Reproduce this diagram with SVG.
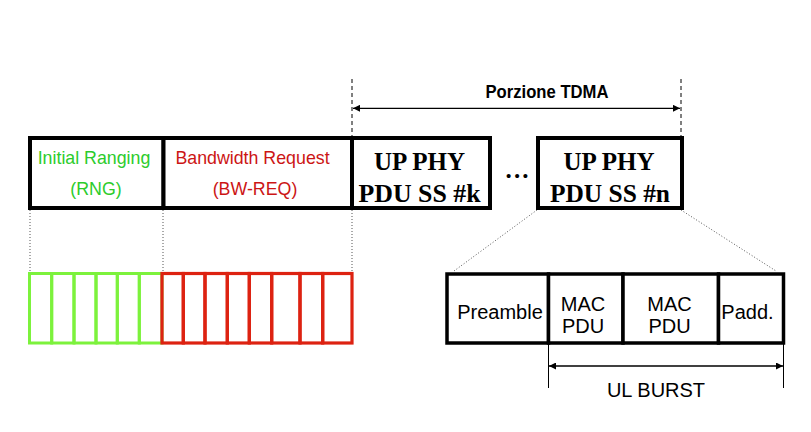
<svg xmlns="http://www.w3.org/2000/svg" width="811" height="432" viewBox="0 0 811 432">
<defs>
<marker id="ah" viewBox="0 0 10 10" refX="10" refY="5" markerWidth="9" markerHeight="7" markerUnits="userSpaceOnUse" orient="auto-start-reverse"><path d="M0,0 L10,5 L0,10 z" fill="#000"/></marker>
<style>
.box{fill:#fff;stroke:#000;stroke-width:4}
.cell{fill:#fff;stroke:#000;stroke-width:3.5}
.g{fill:none;stroke:#7cf23c;stroke-width:3}
.r{fill:none;stroke:#dd2211;stroke-width:3.2}
.dot{stroke:#555;stroke-width:1;stroke-dasharray:1 2;fill:none}
.dash{stroke:#000;stroke-width:1;stroke-dasharray:4 3;fill:none}
.arr{stroke:#000;stroke-width:1.3;fill:none}
.sans{font-family:"Liberation Sans",Arial,sans-serif}
.serif{font-family:"Liberation Serif","Times New Roman",serif;font-weight:bold;font-size:25px}
</style>
</defs>
<rect width="811" height="432" fill="#fff"/>

<g id="connectors">
<line class="dash" x1="352" y1="79" x2="352" y2="137"/>
<line class="dash" x1="681" y1="79" x2="681" y2="137"/>
<line class="arr" x1="353" y1="108.3" x2="680" y2="108.3" marker-start="url(#ah)" marker-end="url(#ah)"/>
<line class="dot" x1="30" y1="210" x2="30" y2="273"/>
<line class="dot" x1="163" y1="210" x2="163" y2="273"/>
<line class="dot" x1="352" y1="210" x2="352" y2="273"/>
<line class="dot" x1="537" y1="210" x2="454" y2="271"/>
<line class="dot" x1="681" y1="210" x2="776" y2="271"/>
<line stroke="#000" stroke-width="1" x1="548.5" y1="343" x2="548.5" y2="388"/>
<line stroke="#000" stroke-width="1" x1="783.5" y1="343" x2="783.5" y2="388"/>
<line class="arr" x1="549" y1="366" x2="783" y2="366" marker-start="url(#ah)" marker-end="url(#ah)"/>
</g>

<g id="tdma-label"><text class="sans" x="547" y="98" font-size="18" font-weight="bold" text-anchor="middle" textLength="123" lengthAdjust="spacingAndGlyphs">Porzione TDMA</text></g>

<g id="rng">
<rect class="box" x="30" y="138" width="133.5" height="70"/>
<text class="sans" x="94" y="164.3" font-size="17.8" fill="#2ccc2c" text-anchor="middle">Initial Ranging</text>
<text class="sans" x="96" y="195" font-size="17.8" fill="#2ccc2c" text-anchor="middle">(RNG)</text>
</g>
<g id="bwreq">
<rect class="box" x="163.5" y="138" width="188.5" height="70"/>
<text class="sans" x="252.5" y="164.3" font-size="17.8" fill="#cc1515" text-anchor="middle">Bandwidth Request</text>
<text class="sans" x="255" y="195" font-size="17.8" fill="#cc1515" text-anchor="middle">(BW-REQ)</text>
</g>
<g id="phy-k">
<rect class="box" x="352" y="138" width="138" height="70"/>
<text class="serif" x="419.5" y="170" text-anchor="middle">UP PHY</text>
<text class="serif" x="419.5" y="201.5" text-anchor="middle" textLength="122" lengthAdjust="spacingAndGlyphs">PDU SS #k</text>
</g>
<g id="ellipsis"><text class="serif" x="517" y="178" font-size="30" text-anchor="middle" textLength="23" lengthAdjust="spacing">...</text></g>
<g id="phy-n">
<rect class="box" x="538" y="138" width="144" height="70"/>
<text class="serif" x="609" y="170" text-anchor="middle">UP PHY</text>
<text class="serif" x="610" y="201.5" text-anchor="middle" textLength="120" lengthAdjust="spacingAndGlyphs">PDU SS #n</text>
</g>

<g id="rng-slots">
<rect class="g" x="29.5" y="273.5" width="22.2" height="69.5"/>
<rect class="g" x="51.7" y="273.5" width="22.3" height="69.5"/>
<rect class="g" x="74" y="273.5" width="22" height="69.5"/>
<rect class="g" x="96" y="273.5" width="21.3" height="69.5"/>
<rect class="g" x="117.3" y="273.5" width="22" height="69.5"/>
<rect class="g" x="139.3" y="273.5" width="22.7" height="69.5"/>
</g>
<g id="bwreq-slots">
<rect class="r" x="162" y="273.5" width="21.3" height="69.5"/>
<rect class="r" x="183.3" y="273.5" width="21.7" height="69.5"/>
<rect class="r" x="205" y="273.5" width="22.3" height="69.5"/>
<rect class="r" x="227.3" y="273.5" width="22" height="69.5"/>
<rect class="r" x="249.3" y="273.5" width="22.4" height="69.5"/>
<rect class="r" x="271.7" y="273.5" width="28.3" height="69.5"/>
<rect class="r" x="300" y="273.5" width="22.7" height="69.5"/>
<rect class="r" x="322.7" y="273.5" width="29.3" height="69.5"/>
</g>

<g id="preamble">
<rect class="cell" x="447" y="274" width="101.5" height="69"/>
<text class="sans" x="500" y="319" font-size="20" text-anchor="middle">Preamble</text>
</g>
<g id="mac1">
<rect class="cell" x="548.5" y="274" width="74.5" height="69"/>
<text class="sans" x="583" y="311" font-size="20" text-anchor="middle">MAC</text>
<text class="sans" x="583" y="333" font-size="20" text-anchor="middle">PDU</text>
</g>
<g id="mac2">
<rect class="cell" x="623" y="274" width="95.5" height="69"/>
<text class="sans" x="669.5" y="311" font-size="20" text-anchor="middle">MAC</text>
<text class="sans" x="669.5" y="333" font-size="20" text-anchor="middle">PDU</text>
</g>
<g id="padd">
<rect class="cell" x="718.5" y="274" width="65" height="69" stroke-width="2.5"/>
<text class="sans" x="747.5" y="318.5" font-size="20" text-anchor="middle">Padd.</text>
</g>
<g id="ulburst-label"><text class="sans" x="656" y="396.5" font-size="20" text-anchor="middle">UL BURST</text></g>
</svg>
